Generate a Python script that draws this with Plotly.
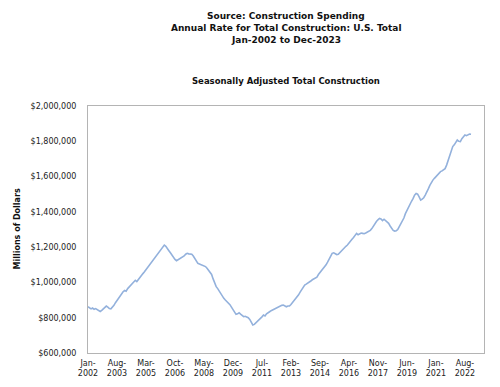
import plotly.graph_objects as go

# Monthly annual-rate values (millions of dollars), Jan-2002 .. Dec-2022
y2002 = [862000, 858000, 850000, 855000, 848000, 852000, 845000, 838000, 835000, 842000, 850000, 858000]
y2003 = [866000, 860000, 852000, 850000, 858000, 870000, 885000, 898000, 912000, 925000, 935000, 947000]
y2004 = [955000, 950000, 965000, 975000, 985000, 990000, 1000000, 1012000, 1005000, 1018000, 1030000, 1040000]
y2005 = [1050000, 1060000, 1072000, 1080000, 1092000, 1105000, 1115000, 1130000, 1140000, 1152000, 1165000, 1178000]
y2006 = [1192000, 1205000, 1212000, 1205000, 1195000, 1180000, 1168000, 1155000, 1140000, 1130000, 1123000, 1128000]
y2007 = [1137000, 1140000, 1145000, 1150000, 1160000, 1165000, 1162000, 1163000, 1160000, 1150000, 1135000, 1118000]
y2008 = [1108000, 1105000, 1102000, 1100000, 1097000, 1090000, 1080000, 1070000, 1060000, 1045000, 1020000, 995000]
y2009 = [976000, 965000, 950000, 935000, 920000, 910000, 900000, 892000, 882000, 874000, 860000, 848000]
y2010 = [835000, 819000, 822000, 828000, 820000, 812000, 806000, 808000, 803000, 800000, 790000, 770000]
y2011 = [759000, 762000, 770000, 776000, 785000, 795000, 805000, 815000, 810000, 822000, 830000, 834000]
y2012 = [840000, 845000, 850000, 855000, 859000, 865000, 868000, 870000, 872000, 868000, 862000, 866000]
y2013 = [866000, 875000, 885000, 895000, 905000, 917000, 930000, 945000, 958000, 970000, 985000, 990000]
y2014 = [995000, 1000000, 1008000, 1015000, 1020000, 1023000, 1030000, 1045000, 1055000, 1065000, 1078000, 1088000]
y2015 = [1100000, 1115000, 1130000, 1150000, 1165000, 1168000, 1162000, 1158000, 1160000, 1170000, 1180000, 1190000]
y2016 = [1198000, 1205000, 1212000, 1225000, 1235000, 1245000, 1255000, 1265000, 1278000, 1270000, 1275000, 1280000]
y2017 = [1278000, 1276000, 1280000, 1285000, 1288000, 1295000, 1305000, 1320000, 1335000, 1345000, 1355000, 1363000]
y2018 = [1360000, 1350000, 1358000, 1352000, 1345000, 1335000, 1320000, 1305000, 1295000, 1291000, 1293000, 1300000]
y2019 = [1315000, 1330000, 1345000, 1365000, 1390000, 1410000, 1429000, 1440000, 1460000, 1475000, 1495000, 1504000]
y2020 = [1500000, 1485000, 1467000, 1472000, 1480000, 1495000, 1510000, 1530000, 1550000, 1570000, 1580000, 1590000]
y2021 = [1600000, 1610000, 1622000, 1628000, 1632000, 1637000, 1645000, 1665000, 1690000, 1720000, 1750000, 1770000]
y2022 = [1780000, 1795000, 1807000, 1800000, 1798000, 1815000, 1825000, 1836000, 1832000, 1838000, 1841000, 1840000]

values = (y2002 + y2003 + y2004 + y2005 + y2006 + y2007 + y2008 + y2009 + y2010 + y2011 + y2012
          + y2013 + y2014 + y2015 + y2016 + y2017 + y2018 + y2019 + y2020 + y2021 + y2022)
months = list(range(len(values)))

tick_labels = ["Jan-2002", "Aug-2003", "Mar-2005", "Oct-2006", "May-2008", "Dec-2009", "Jul-2011",
               "Feb-2013", "Sep-2014", "Apr-2016", "Nov-2017", "Jun-2019", "Jan-2021", "Aug-2022"]
tick_pos = [i * 19 for i in range(len(tick_labels))]
y_ticks = [600000, 800000, 1000000, 1200000, 1400000, 1600000, 1800000, 2000000]

fig = go.Figure(go.Scatter(x=months, y=values, mode="lines",
                           line=dict(color="#93b1dc", width=1.6), hoverinfo="skip"))

FONT = "DejaVu Sans"
# page body has an 8px margin, so the figure is shrunk by 8px and margins shifted
fig.update_layout(
    width=492, height=379,
    margin=dict(l=80, r=16, t=98, b=34),
    paper_bgcolor="white", plot_bgcolor="white",
    showlegend=False,
    font=dict(family=FONT, size=8, color="#222"),
    xaxis=dict(range=[0, 259.5], tickvals=tick_pos,
               ticktext=[t.replace("-", "-<br>") for t in tick_labels],
               showgrid=False, zeroline=False, showline=True, mirror=True,
               linecolor="#b4b4b4", linewidth=1, ticks="", tickangle=0,
               automargin=False, ticklabelstandoff=2,
               tickfont=dict(family=FONT, size=8, color="#222")),
    yaxis=dict(range=[600000, 2000000], tickvals=y_ticks,
               ticktext=["$" + format(v, ",") for v in y_ticks],
               showgrid=False, zeroline=False, showline=True, mirror=True,
               linecolor="#b4b4b4", linewidth=1, ticks="",
               automargin=False, ticklabelstandoff=9,
               tickfont=dict(family=FONT, size=8, color="#222")),
)

def py(ypix):
    return (353 - ypix) / 247.0

titles = [("Source: Construction Spending", 16, 9),
          ("Annual Rate for Total Construction: U.S. Total", 28, 9),
          ("Jan-2002 to Dec-2023", 40, 9),
          ("Seasonally Adjusted Total Construction", 81, 8.5)]
for text, ypix, size in titles:
    fig.add_annotation(text="<b>" + text + "</b>", xref="paper", yref="paper",
                       x=0.5, y=py(ypix), xanchor="center", yanchor="middle",
                       showarrow=False, font=dict(family=FONT, size=size, color="#111"))

fig.add_annotation(text="<b>Millions of Dollars</b>", xref="paper", yref="paper",
                   x=(17 - 88) / 396.0, y=0.5, xanchor="center", yanchor="middle",
                   textangle=-90, showarrow=False,
                   font=dict(family=FONT, size=8, color="#111"))

fig.write_html("out.html")
